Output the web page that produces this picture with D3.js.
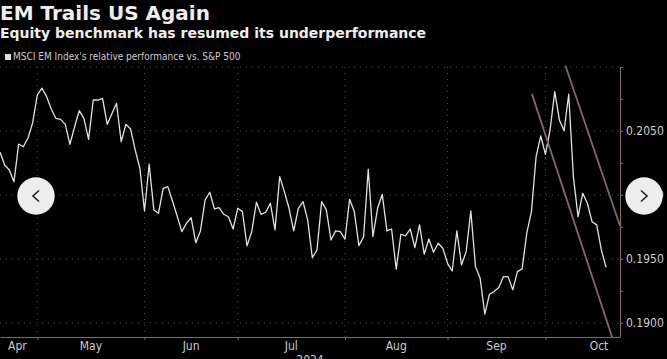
<!DOCTYPE html>
<html>
<head>
<meta charset="utf-8">
<script src="https://cdn.jsdelivr.net/npm/d3@7"></script>
<style>
html, body { margin: 0; padding: 0; background: #000; }
svg { display: block; }
text { font-family: "DejaVu Sans Condensed", "DejaVu Sans", sans-serif; }
</style>
</head>
<body>
<div id="chart"></div>
<script>
// 数据 (weekday closes)
const startDate = '2024-04-19';
const endDate = '2024-10-23';

const valuesApr = [0.20336, 0.20234, 0.20195, 0.20104, 0.20398, 0.20377, 0.20445, 0.20563];
const valuesMay = [0.20781, 0.20834, 0.20768, 0.20672, 0.20598, 0.20591, 0.20552, 0.20396, 0.20531, 0.20659,
    0.20599, 0.20435, 0.20742, 0.20742, 0.20755, 0.20552, 0.20634, 0.20716, 0.20416, 0.20552,
    0.20516, 0.20352, 0.20209];
const valuesJun = [0.19875, 0.20240, 0.19883, 0.19857, 0.20052, 0.20065, 0.19953, 0.19836, 0.19713, 0.19779,
    0.19823, 0.19627, 0.19719, 0.19961, 0.20021, 0.19891, 0.19901, 0.19849, 0.19830, 0.19734];
const valuesJul = [0.19896, 0.19870, 0.19602, 0.19713, 0.19943, 0.19849, 0.19865, 0.19935, 0.19727, 0.20143,
    0.20026, 0.19896, 0.19719, 0.19896, 0.19948, 0.19805, 0.19510, 0.19570, 0.19948, 0.19883,
    0.19648, 0.19719, 0.19713];
const valuesAug = [0.19654, 0.19966, 0.19870, 0.19604, 0.19674, 0.20201, 0.19674, 0.19896, 0.20005, 0.19719,
    0.19734, 0.19420, 0.19693, 0.19680, 0.19734, 0.19588, 0.19766, 0.19537, 0.19656, 0.19552,
    0.19623, 0.19584];
const valuesSep = [0.19466, 0.19406, 0.19719, 0.19453, 0.19557, 0.19875, 0.19440, 0.19349, 0.19068, 0.19224,
    0.19245, 0.19276, 0.19362, 0.19362, 0.19258, 0.19401, 0.19422, 0.19701, 0.19870, 0.20299,
    0.20461];
const valuesOct = [0.20318, 0.20508, 0.20807, 0.20586, 0.20502, 0.20787, 0.20143, 0.19830, 0.20013, 0.19935,
    0.19791, 0.19766, 0.19570, 0.19435];

const months = ['Apr', 'May', 'Jun', 'Jul', 'Aug', 'Sep', 'Oct'];
const yearLabel = '2024';
const yTicks = [0.19, 0.1925, 0.195, 0.1975, 0.2, 0.2025, 0.205, 0.2075, 0.21];
const yLabels = [0.19, 0.195, 0.2, 0.205];
const yGrid = [0.19, 0.195, 0.2, 0.205, 0.21];
const yDomain = [0.1889, 0.21];
// trend channel: [weekday offset from start, value]
const trendLow = [[114.1, 0.2079], [131.3, 0.1889]];
const trendHigh = [[121.3, 0.2101], [133, 0.1976]];

const title = 'EM Trails US Again';
const subtitle = 'Equity benchmark has resumed its underperformance';
const legendText = "MSCI EM Index's relative performance vs. S&P 500";

//常量
const W = 667, H = 359;
const plotL = 0, plotR = 620, plotT = 67, plotB = 337;
const axisColor = '#7b6a66';

const parse = d3.timeParse('%Y-%m-%d');
// 工作日日历
const cal = d3.timeDay.range(new Date(2024, 3, 1), new Date(2024, 11, 2))
    .filter(d => d.getDay() !== 0 && d.getDay() !== 6);
const k0 = cal.findIndex(d => +d === +parse(startDate));
function wIdx(date) {
    return cal.findIndex(d => d >= date) - k0;
}

const values = [].concat(valuesApr, valuesMay, valuesJun, valuesJul, valuesAug, valuesSep, valuesOct);
const series = values.map((v, i) => ({ i, v }));

const x = d3.scaleLinear().domain([0, wIdx(parse(endDate))]).range([plotL, plotR]);
const y = d3.scaleLinear().domain(yDomain).range([plotB, plotT]);

const svg = d3.select('#chart').append('svg')
    .attr('width', W).attr('height', H)
    .style('background', '#000');

svg.append('defs').append('clipPath').attr('id', 'plotClip')
    .append('rect').attr('x', plotL).attr('y', plotT)
    .attr('width', plotR - plotL).attr('height', plotB - plotT);

// 标题
svg.append('text').attr('x', 0).attr('y', 20)
    .style('font-family', '"DejaVu Sans", sans-serif')
    .style('font-weight', 'bold').style('font-size', '20px')
    .style('fill', '#eeeeee').text(title);
svg.append('text').attr('x', 0).attr('y', 38)
    .style('font-family', '"DejaVu Sans", sans-serif')
    .style('font-weight', 'bold').style('font-size', '14px')
    .style('fill', '#eeeeee').text(subtitle);

// 图例
svg.append('rect').attr('x', 5).attr('y', 54).attr('width', 6).attr('height', 6).style('fill', '#dddddd');
svg.append('text').attr('x', 13).attr('y', 60)
    .style('font-size', '10px').style('fill', '#cccccc').text(legendText);

// month starts
const monthStarts = months.map((m, k) => wIdx(new Date(2024, 3 + k, 1)));
const monthEnds = months.map((m, k) => wIdx(new Date(2024, 4 + k, 1)));

// 网格线
const grid = svg.append('g').attr('class', 'grid');
grid.selectAll('line.h').data(yGrid).join('line').attr('class', 'h')
    .attr('x1', plotL).attr('x2', plotR)
    .attr('y1', d => y(d)).attr('y2', d => y(d))
    .style('stroke', '#4a4a4a').style('stroke-dasharray', '1,5');
grid.selectAll('line.v').data(monthStarts.filter(d => d > 0)).join('line').attr('class', 'v')
    .attr('x1', d => x(d)).attr('x2', d => x(d))
    .attr('y1', plotT).attr('y2', plotB)
    .style('stroke', '#4a4a4a').style('stroke-dasharray', '1,5');

// x axis
const xAxis = d3.axisBottom(x)
    .tickValues(monthStarts.filter(d => d > 0))
    .tickSize(3).tickSizeOuter(0).tickFormat('');
const gx = svg.append('g').attr('transform', `translate(0,${plotB})`).call(xAxis);
gx.select('.domain').style('stroke', axisColor).style('stroke-width', 1.2);
gx.selectAll('.tick line').style('stroke', axisColor);

const monthLabels = svg.append('g');
months.forEach((m, k) => {
    const t = monthLabels.append('text')
        .attr('y', 349.5).attr('text-anchor', 'middle')
        .style('font-size', '12px').style('fill', '#cccccc').text(m);
    const w = t.node().getComputedTextLength();
    let cx = (x(monthStarts[k]) + x(monthEnds[k])) / 2;
    cx = Math.max(cx, plotL + 8 + w / 2);
    t.attr('x', cx);
});
// year label sits partly below the frame, as in the source
svg.append('text').attr('x', (plotL + plotR) / 2).attr('y', 364)
    .attr('text-anchor', 'middle').style('font-size', '12px')
    .style('fill', '#cccccc').text(yearLabel);

// y axis
const yAxis = d3.axisRight(y)
    .tickValues(yTicks).tickSize(3).tickSizeOuter(0).tickPadding(3)
    .tickFormat(d => yLabels.some(v => Math.abs(v - d) < 1e-9) ? d3.format('.4f')(d) : '');
const gy = svg.append('g').attr('transform', `translate(${plotR},0)`).call(yAxis);
gy.select('.domain').style('stroke', axisColor).style('stroke-width', 1.2);
gy.selectAll('.tick line').style('stroke', axisColor);
gy.selectAll('.tick text').style('fill', '#cccccc').style('font-size', '12px')
    .style('font-family', '"DejaVu Sans Condensed", "DejaVu Sans", sans-serif');

// 折线
const line = d3.line().x(d => x(d.i)).y(d => y(d.v));
svg.append('path').datum(series)
    .attr('clip-path', 'url(#plotClip)')
    .attr('d', line)
    .style('fill', 'none').style('stroke', '#e6e0e0').style('stroke-width', 1.3)
    .style('stroke-linejoin', 'round');

// trend channel
const tLine = d3.line().x(d => x(d[0])).y(d => y(d[1]));
[trendLow, trendHigh].forEach(t => {
    svg.append('path').datum(t)
        .attr('d', tLine)
        .style('fill', 'none').style('stroke', '#7e6b66').style('stroke-width', 1.8);
});

// 按钮
function button(cx, cy, dir) {
    const g = svg.append('g').attr('transform', `translate(${cx},${cy})`);
    g.append('circle').attr('r', 18.7).style('fill', '#ededee');
    g.append('path')
        .attr('d', dir < 0 ? 'M3,-5.5 L-3,0 L3,5.5' : 'M-3,-5.5 L3,0 L-3,5.5')
        .style('fill', 'none').style('stroke', '#222').style('stroke-width', 1.6);
}
button(36, 196, -1);
button(644, 196, 1);
</script>
</body>
</html>
